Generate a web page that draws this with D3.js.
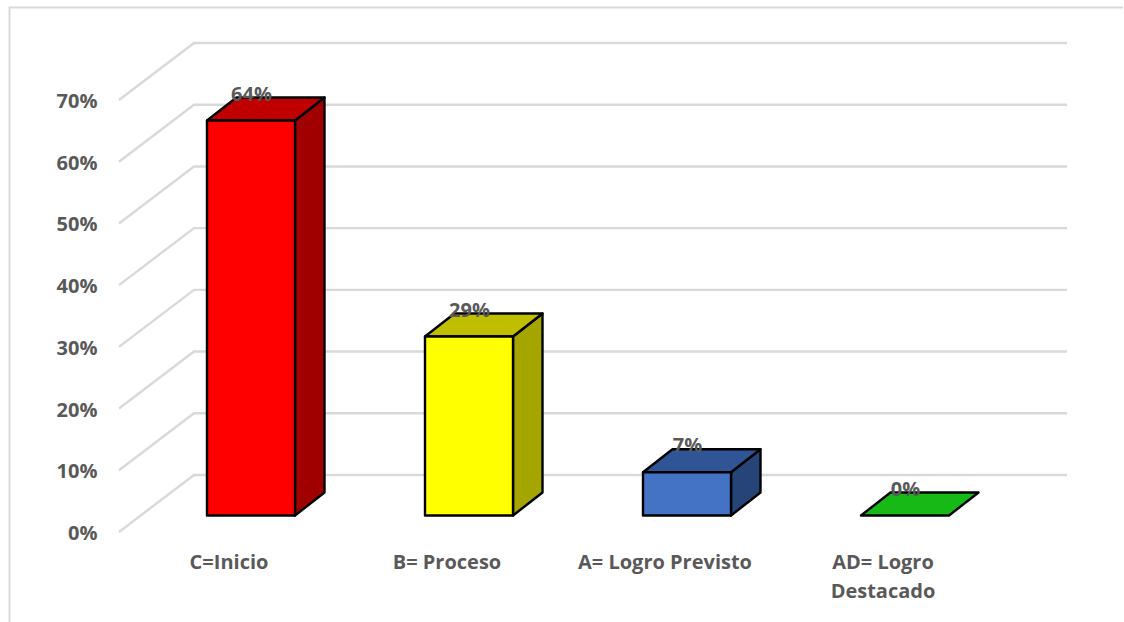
<!DOCTYPE html>
<html><head><meta charset="utf-8">
<script src="https://cdn.jsdelivr.net/npm/d3@7"></script>
<style>html,body{margin:0;background:#fff}svg{display:block}text{font-family:"Open Sans",sans-serif;font-weight:700;fill:#595959}</style>
</head><body><svg id="c" width="1124" height="622"></svg>
<script>
const categories = [["C=Inicio"],["B= Proceso"],["A= Logro Previsto"],["AD= Logro","Destacado"]];
const values = [64,29,7,0];
const labels = ["64%","29%","7%","0%"];
const ticks = [0,10,20,30,40,50,60,70];
const frontColors = ["#ff0000","#ffff00","#4472c4","#17b917"];
const topColors = ["#c00000","#bfbf00","#2f5597","#17b917"];
const sideColors = ["#a00000","#a5a500","#264478","#17b917"];

const svg = d3.select("#c");
const y = d3.scaleLinear().domain([0,70]).range([515.5,83.5]);
const x = d3.scalePoint().domain(d3.range(4)).range([251,905]);
const barW = 88, dx = 29.5, dy = 23;
const wallDx = 75, wallDy = 57, wallFrontOffset = 16.5;
const line = d3.line();

svg.append("path").attr("d","M9.5,622V7.5H1123").attr("fill","none").attr("stroke","#d9d9d9").attr("stroke-width",2);

ticks.forEach(t=>{
  const yf = y(t)+wallFrontOffset, yb = yf-wallDy;
  svg.append("path").attr("d",line([[119,yf],[119+wallDx,yb],[1067,yb]]))
    .attr("fill","none").attr("stroke","#d9d9d9").attr("stroke-width",2.4);
  svg.append("text").attr("x",97.5).attr("y",yf+8).attr("text-anchor","end")
    .attr("font-size",20).text(t+"%");
});

values.forEach((v,i)=>{
  const l = x(i)-barW/2, r = x(i)+barW/2, t = y(v), b = y(0);
  const g = svg.append("g").attr("stroke","#000").attr("stroke-width",2.4).attr("stroke-linejoin","round");
  if(v>0){
    g.append("path").attr("fill",sideColors[i]).attr("d",line([[r,t],[r+dx,t-dy],[r+dx,b-dy],[r,b]])+"Z");
    g.append("path").attr("fill",topColors[i]).attr("d",line([[l,t],[l+dx,t-dy],[r+dx,t-dy],[r,t]])+"Z");
    g.append("rect").attr("fill",frontColors[i]).attr("x",l).attr("y",t).attr("width",barW).attr("height",b-t);
  } else {
    g.append("path").attr("fill",topColors[i]).attr("d",line([[l,t],[l+dx,t-dy],[r+dx,t-dy],[r,t]])+"Z");
  }
});

values.forEach((v,i)=>{
  svg.append("text").attr("x",x(i)+0.5).attr("y",y(v)-20).attr("text-anchor","middle")
    .attr("font-size",20).text(labels[i]);
  const tx = svg.append("text").attr("text-anchor","middle").attr("font-size",20);
  categories[i].forEach((s,k)=>tx.append("tspan").attr("x",x(i)-22).attr("y",569+k*29).text(s));
});
</script></body></html>
